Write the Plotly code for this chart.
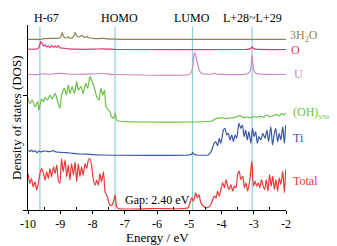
import plotly.graph_objects as go

# ---------------- data (DOS in arbitrary units, energies in eV) ----------------
e_total = [-10.00, -9.94, -9.89, -9.84, -9.78, -9.73, -9.68, -9.63, -9.58, -9.52, -9.47, -9.42,
           -9.37, -9.32, -9.27, -9.21, -9.16, -9.11, -9.06, -9.01, -8.96, -8.91, -8.85, -8.80,
           -8.75, -8.70, -8.65, -8.59, -8.54, -8.49, -8.44, -8.39, -8.34, -8.29, -8.23, -8.18,
           -8.13, -8.08, -8.03, -7.98, -7.92, -7.87, -7.82, -7.77, -7.72, -7.66, -7.61, -7.56,
           -7.51, -7.46, -7.40, -7.35, -7.30, -7.25, -7.20, -6.00, -5.03, -4.98, -4.92, -4.87,
           -4.80, -4.75, -4.70, -4.64, -4.56, -4.46, -4.36, -4.29, -4.22, -4.17, -4.12, -4.07,
           -4.02, -3.96, -3.91, -3.86, -3.81, -3.76, -3.71, -3.65, -3.60, -3.55, -3.50, -3.45,
           -3.40, -3.34, -3.29, -3.24, -3.19, -3.12, -3.06, -3.01, -2.96, -2.91, -2.86, -2.81,
           -2.76, -2.71, -2.66, -2.61, -2.56, -2.51, -2.46, -2.41, -2.36, -2.31, -2.26, -2.21,
           -2.16, -2.10, -2.05, -2.01]
dos_total = [35, 25, 30, 21.7, 26.7, 18.3, 25, 35, 40, 35, 28.3, 36.7,
             30, 40, 31.7, 41.7, 35, 43.3, 28.3, 25, 50, 36.7, 48.3, 31.7,
             43.3, 28.3, 45, 33.3, 46.7, 26.7, 45, 31.7, 41.7, 33.3, 45, 40,
             48.3, 50, 43.3, 30, 23.3, 28.3, 23.3, 35, 26.7, 36.7, 16.7, 13.3,
             8.3, 3.3, 3.3, 6.7, 13.3, 1.7, 0, 0, 0.7, 5.7, 10.7, 7.3,
             15.7, 10.7, 14, 5.7, 2.3, 0.7, 2.3, 7.3, 12.3, 10.7, 17.3, 12.3,
             19, 25.7, 20.7, 29, 22.3, 19, 24, 17.3, 22.3, 20.7, 34, 37.3,
             29, 32.3, 20.7, 25.7, 17.3, 29, 47.3, 22.3, 27.3, 22.3, 25.7, 20.7,
             29, 22.3, 19, 29, 17.3, 34, 22.3, 32.3, 19, 29, 17.3, 30.7,
             24, 37.3, 15.7, 39]

e_ti = [-10.00, -9.94, -9.89, -9.84, -9.78, -9.72, -9.66, -9.60, -9.55, -9.45, -9.34, -9.22,
        -9.12, -9.00, -8.80, -8.60, -8.40, -8.10, -7.70, -5.00, -4.93, -4.89, -4.85, -4.78,
        -4.42, -4.36, -4.30, -4.25, -4.18, -4.12, -4.07, -4.02, -3.94, -3.89, -3.84, -3.79,
        -3.74, -3.68, -3.63, -3.58, -3.53, -3.46, -3.40, -3.35, -3.30, -3.25, -3.20, -3.15,
        -3.09, -3.04, -2.99, -2.94, -2.89, -2.84, -2.78, -2.72, -2.65, -2.59, -2.54, -2.47,
        -2.42, -2.37, -2.32, -2.26, -2.21, -2.16, -2.10, -2.05, -2.01]
dos_ti = [5, 3.3, 5, 3.3, 4.3, 2.3, 4, 3, 3.7, 4, 3.3, 4.3,
          3, 2.7, 2.3, 1.7, 1, 0.7, 0, 0, 0.7, 2.3, 0.7, 0,
          0, 1.7, 5, 10, 13.3, 9.3, 16.7, 11.7, 25, 26.7, 20, 21.7,
          15, 20, 13.3, 20, 16.7, 31.7, 26.7, 30, 18.3, 25, 15, 23.3,
          11.7, 26.7, 18.3, 23.3, 11.7, 18.3, 15, 21.7, 16.7, 25, 13.3, 28.3,
          10, 20, 26.7, 13.3, 21.7, 15, 28.3, 11.7, 30]

e_oh = [-10.00, -9.94, -9.87, -9.78, -9.70, -9.66, -9.58, -9.52, -9.47, -9.39, -9.32, -9.25,
        -9.16, -9.08, -9.01, -8.96, -8.87, -8.81, -8.75, -8.70, -8.63, -8.56, -8.49, -8.44,
        -8.36, -8.29, -8.21, -8.15, -8.08, -8.03, -7.94, -7.87, -7.80, -7.74, -7.68, -7.63,
        -7.58, -7.51, -7.46, -7.41, -7.35, -7.30, -7.25, -7.20, -4.30, -4.20, -4.10, -3.99,
        -3.89, -3.79, -3.68, -3.58, -3.43, -3.32, -3.22, -3.12, -3.01, -2.91, -2.81, -2.70,
        -2.60, -2.50, -2.39, -2.29, -2.22, -2.13, -2.07, -2.01]
dos_oh = [22.7, 17.7, 21, 14.3, 19.3, 11, 22, 19.3, 23.3, 21, 26, 22,
          27.7, 19.3, 12.7, 26, 32.7, 26, 36, 27.7, 34.3, 27.7, 39.3, 31,
          34.3, 27.7, 37.7, 32.7, 44.3, 41, 32.7, 24.3, 21, 32.7, 26, 31,
          14.3, 11, 9.3, 4.3, 2.7, 7.7, 1, 0, 0, 2, 2.7, 3.3,
          2.3, 2.7, 3, 3.7, 5.3, 3.3, 4, 3.3, 4.3, 3.7, 4.7, 4,
          6, 4.3, 5.3, 6.7, 5, 7.7, 6, 8]

e_u = [-10.00, -9.65, -9.55, -9.45, -9.20, -9.00, -8.80, -8.30, -7.65, -7.50, -7.30, -5.00,
       -4.94, -4.89, -4.86, -4.83, -4.80, -4.77, -4.74, -4.70, -4.65, -4.58, -4.45, -4.28,
       -4.22, -4.16, -4.00, -3.30, -3.18, -3.11, -3.07, -3.05, -3.03, -2.99, -2.92, -2.80, -2.00]
dos_u = [0, 0, 1, 0.3, 0.5, 1.2, 0.5, 0.3, 1, 0.3, 0, 0,
         2, 8, 18, 22, 19, 14, 11, 5, 2, 0.7, 0.3, 0.5,
         1.5, 0.5, 0.2, 0.2, 1, 3.5, 12, 20, 12, 3.5, 1, 0.3, 0]

e_o = [-10.00, -9.70, -9.65, -9.60, -9.56, -9.51, -9.47, -9.42, -9.37, -9.32, -9.27, -9.21,
       -9.16, -9.11, -9.06, -9.01, -8.91, -8.75, -8.54, -8.00, -7.66, -7.40, -7.20, -3.30,
       -3.15, -3.09, -3.05, -3.01, -2.95, -2.00]
dos_o = [0.3, 0.7, 3, 8, 5.7, 3.3, 4.7, 2.7, 3.3, 2, 4, 2.3,
         3.3, 2, 4, 1.7, 1.3, 0.7, 0.3, 0.3, 0.7, 0.3, 0, 0,
         0.3, 1, 2.7, 1, 0.3, 0]

e_h2o = [-10.00, -9.60, -9.50, -9.30, -9.10, -9.00, -8.96, -8.94, -8.91, -8.86, -8.80, -8.76,
         -8.70, -8.62, -8.57, -8.54, -8.50, -8.45, -8.40, -8.36, -8.33, -8.29, -8.22, -8.18,
         -8.12, -8.00, -7.80, -7.65, -7.55, -7.30, -7.00, -2.00]
dos_h2o = [0, 0, 0.7, 1, 1, 1.5, 4, 7, 4, 1.5, 1.5, 2.5,
           1.2, 1.5, 4, 7, 4, 2.5, 2.5, 3.5, 4, 2.5, 2, 3,
           1.5, 1, 0.7, 1, 0.5, 0.2, 0, 0]

level_energies = [-9.63, -7.30, -4.90, -3.05]
level_labels = ["H-67", "HOMO", "LUMO", "L+28~L+29"]
series_names = ["Total", "Ti", "(OH)<sub><span style='font-size:7px'>SNC</span></sub>",
                "U", "O", "3H<sub>2</sub>O"]
x_tickvals = [-10, -9, -8, -7, -6, -5, -4, -3, -2]
x_ticktext = ["-10", "-9", "-8", "-7", "-6", "-5", "-4", "-3", "-2"]
gap_text = "Gap: 2.40 eV"

# ---------------- styling / layout ----------------
FONT = "Liberation Serif"
offsets = [1.5, 55, 89, 135.5, 160.5, 170.7]
colors = ["#e83a3a", "#3a58a8", "#6cbf45", "#c88cc4", "#e0357a", "#8b8550"]
label_y = [29, 72, 97, 136, 160, 174]
label_xpx = [291, 291, 291, 292, 289, 288]

series = [(e_total, dos_total), (e_ti, dos_ti), (e_oh, dos_oh),
          (e_u, dos_u), (e_o, dos_o), (e_h2o, dos_h2o)]

BODY = 8                       # default page body margin
W, H = 337 - BODY, 246 - BODY  # figure reaches the window's right / bottom edges
PL, PR, PT, PB = 28, 286, 25, 210   # plot area in page pixels
L, T = PL - BODY, PT - BODY
R = W - (PR - BODY)
B = H - (PB - BODY)
plot_w = PR - PL
plot_h = PB - PT

fig = go.Figure()
for (ex, dy), off, col, name in zip(series, offsets, colors, series_names):
    fig.add_trace(go.Scatter(
        x=ex, y=[v + off for v in dy], mode="lines", name=name,
        line=dict(color=col, width=1.2, shape="spline", smoothing=0.6),
        hoverinfo="skip", showlegend=False))

shapes = []
for e in level_energies:
    shapes.append(dict(type="line", xref="x", yref="paper", x0=e, x1=e, y0=0, y1=0.99,
                       line=dict(color="#8fd0d8", width=1.2), layer="below"))

annotations = []
label_shift = [7, 4, 0, 0]
for e, t, s in zip(level_energies, level_labels, label_shift):
    annotations.append(dict(x=e, y=1.04, xref="x", yref="paper", text=t, showarrow=False,
                            xanchor="center", yanchor="middle", xshift=s,
                            font=dict(family=FONT, size=12, color="black")))
for name, col, ly, lx in zip(series_names, colors, label_y, label_xpx):
    annotations.append(dict(x=(lx - PL) / plot_w, y=ly, xref="paper", yref="y", text=name,
                            showarrow=False, xanchor="left", yanchor="middle",
                            font=dict(family=FONT, size=12, color=col)))
annotations.append(dict(x=-6.0, y=10, xref="x", yref="y", text=gap_text, showarrow=False,
                        xanchor="center", yanchor="middle",
                        font=dict(family=FONT, size=12, color="black")))
annotations.append(dict(x=(16 - PL) / plot_w, y=92, xref="paper", yref="y",
                        text="Density of states (DOS)", textangle=-90, showarrow=False,
                        xanchor="center", yanchor="middle",
                        font=dict(family=FONT, size=13, color="black")))
annotations.append(dict(x=0.5, y=(PB - 237.5) / plot_h, xref="paper", yref="paper",
                        text="Energy / eV", showarrow=False, xanchor="center", yanchor="middle",
                        font=dict(family=FONT, size=13, color="black")))

fig.update_layout(
    width=W, height=H, margin=dict(l=L, r=R, t=T, b=B, autoexpand=False),
    paper_bgcolor="white", plot_bgcolor="white",
    shapes=shapes, annotations=annotations,
    font=dict(family=FONT, size=12, color="black"),
    xaxis=dict(range=[-10, -2], tickvals=x_tickvals, ticktext=x_ticktext,
               showline=True, linecolor="black", linewidth=1, mirror=False,
               ticks="outside", ticklen=3, tickcolor="black", showgrid=False, zeroline=False,
               tickfont=dict(family=FONT, size=12, color="black"),
               minor=dict(tickvals=[-9.5, -8.5, -7.5, -6.5, -5.5, -4.5, -3.5, -2.5],
                          ticks="inside", ticklen=3, tickcolor="black", showgrid=False)),
    yaxis=dict(range=[0, 185], tickvals=[0, 115], showticklabels=False,
               showline=True, linecolor="black", linewidth=1, ticks="outside", ticklen=4,
               tickcolor="black", showgrid=False, zeroline=False),
)

fig.write_html("out.html")
